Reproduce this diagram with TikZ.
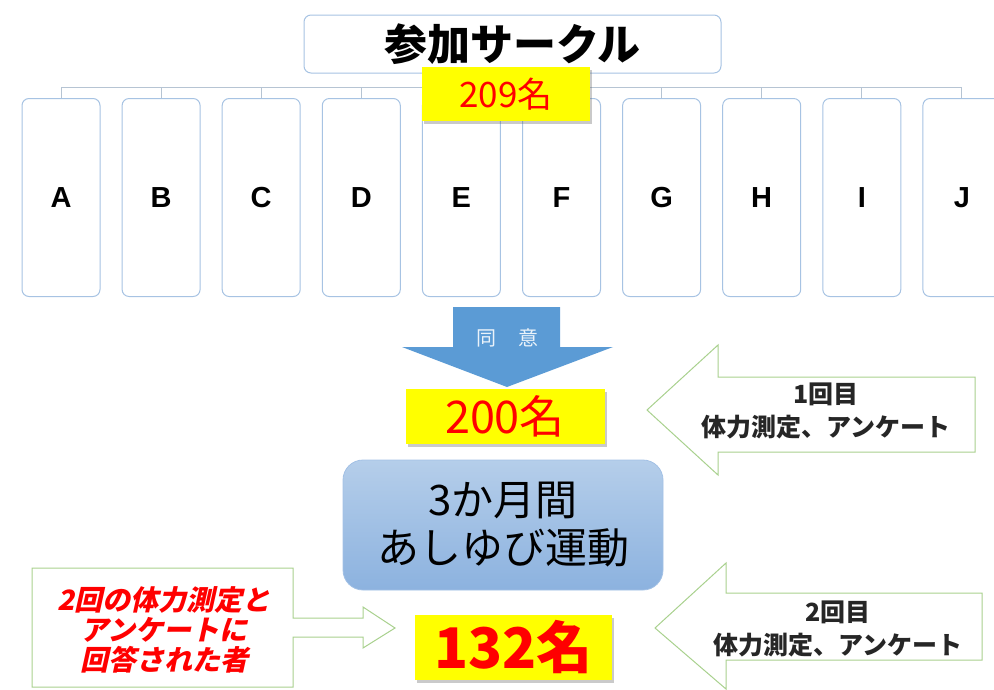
\documentclass[tikz,border=0pt]{standalone}
\usepackage{fontspec}
\usetikzlibrary{shadows}
\newfontfamily\jp{Noto Sans CJK JP}
\newfontfamily\jpsl[FakeSlant=0.22,BoldFeatures={FakeSlant=0.22}]{Noto Sans CJK JP}
\newfontfamily\lat{Liberation Sans}
\definecolor{boxline}{HTML}{A7C3E3}
\definecolor{arrowblue}{HTML}{5B9BD5}
\definecolor{greenline}{HTML}{A9D18E}
\definecolor{yel}{HTML}{FFFF00}
\definecolor{redtxt}{HTML}{FF0000}
\definecolor{bluetop}{HTML}{B5CEEA}
\definecolor{bluebot}{HTML}{8CB2DF}
\tikzset{
  topbox/.style={draw=boxline, line width=1pt, rounded corners=7pt, fill=white,
    minimum width=417pt, minimum height=58pt, inner sep=0pt},
  circlebox/.style={draw=boxline, line width=1pt, rounded corners=7pt, fill=white,
    minimum width=78pt, minimum height=198pt, inner sep=0pt, font=\lat\bfseries\fontsize{29}{29}\selectfont},
  bus/.style={draw=boxline!80!black!60, line width=0.9pt},
  yellowlabel/.style={fill=yel, inner sep=0pt, text=redtxt,
    drop shadow={shadow xshift=2pt, shadow yshift=-2.5pt, opacity=0.35, fill=black!60}},
  greenarrow/.style={draw=greenline, line width=1pt, fill=white},
  sidetext/.style={align=center, font=\jp\bfseries\fontsize{25}{33}\selectfont, text=black!85},
}
\begin{document}
\begin{tikzpicture}[x=1pt,y=-1pt]
\useasboundingbox (0,0) rectangle (994,689);

% top box
\node[topbox] (top) at (512.5,44) {\jp\bfseries\fontsize{43}{43}\selectfont 参加サークル};

% circles
\foreach \L [count=\i from 0] in {A,B,C,D,E,F,G,H,I,J} {
  \node[circlebox] (c\i) at ({61+100.1*\i},197.5) {\L};
}
\coordinate (busL) at (61,87);
\coordinate (busR) at (962,87);
\draw[bus] (busL) -- (busR);
\draw[bus] (top.south) -- (top.south |- busL);
\foreach \i in {0,...,9} {
  \draw[bus] (c\i.north) -- (c\i.north |- busL);
}

% 209 label
\node[yellowlabel, minimum width=168pt, minimum height=54pt] (n209) at (506,94)
  {\jp\fontsize{35}{35}\selectfont 209名};

% down arrow
\fill[arrowblue] (453,307) -- (560,307) -- (560,347) -- (613,347) -- (507,387) -- (402,347) -- (453,347) -- cycle;
\node[text=white!88!arrowblue, font=\jp\fontsize{20}{20}\selectfont] (agree) at (507,338) {同\hspace{22pt}意};

% 200 label
\node[yellowlabel, minimum width=199pt, minimum height=55pt] (n200) at (505,416.5)
  {\jp\fontsize{45}{45}\selectfont 200名};

% blue box
\node[draw=bluebot!80!white, line width=0.8pt, rounded corners=20pt, top color=bluetop, bottom color=bluebot,
  minimum width=320pt, minimum height=130pt, inner sep=0pt, align=center,
  font=\jp\fontsize{42}{48}\selectfont] (prog) at (503,525)
  {3か月間\\あしゆび運動};

% 132 label
\node[yellowlabel, minimum width=197pt, minimum height=65pt] (n132) at (513.5,647.5)
  {\jp\bfseries\fontsize{56}{56}\selectfont 132名};

% right arrow 1
\draw[greenarrow] (647,410) -- (718,345) -- (718,377) -- (975,377) -- (975,452) -- (718,452) -- (718,475) -- cycle;
\node[sidetext] (t1) at (826,411) {1回目\\体力測定、アンケート};

% right arrow 2
\draw[greenarrow] (655,628) -- (726,563) -- (726,593) -- (982,593) -- (982,660) -- (726,660) -- (726,689) -- cycle;
\node[sidetext] (t2) at (838,629) {2回目\\体力測定、アンケート};

% left callout
\draw[greenarrow] (32,568) -- (293,568) -- (293,618) -- (363,618) -- (363,607) -- (395,628) -- (363,648) -- (363,637) -- (293,637) -- (293,687) -- (32,687) -- cycle;
\node[align=center, text=redtxt, font=\jpsl\bfseries\fontsize{28}{30}\selectfont] (t3) at (164,630)
  {2回の体力測定と\\アンケートに\\回答された者};
\end{tikzpicture}
\end{document}
